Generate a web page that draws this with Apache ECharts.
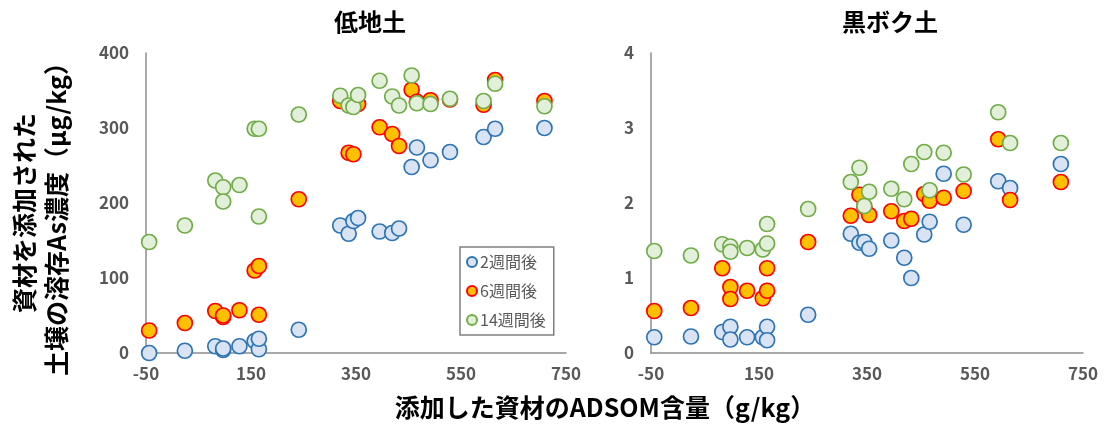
<!DOCTYPE html>
<html>
<head>
<meta charset="utf-8">
<script src="https://cdn.jsdelivr.net/npm/echarts@6/dist/echarts.min.js"></script>
<style>
  html, body { margin: 0; padding: 0; background: #fff; }
  #chart { width: 1104px; height: 434px; }
</style>
</head>
<body>
<div id="chart"></div>
<script>
// ADSOM content of the added material (g/kg), same samples in both soils
var adsom = [-44, 24, 82, 97, 97, 128, 157, 165, 165, 241, 320, 336, 345, 354, 395, 419, 432, 456, 466, 492, 529, 593, 615, 709];

// 低地土 (μg/kg)
var lowland2w  = [0, 3, 9, 4, 6, 9, 16, 5, 19, 31, 170, 159, 176, 180, 162, 160, 166, 248, 274, 257, 268, 288, 299, 300];
var lowland6w  = [30, 40, 56, 48, 50, 57, 110, 116, 51, 205, 336, 267, 265, 332, 301, 292, 276, 351, 335, 337, 338, 331, 364, 336];
var lowland14w = [148, 170, 230, 221, 202, 224, 299, 299, 182, 318, 343, 330, 328, 344, 363, 342, 330, 370, 333, 332, 339, 336, 359, 329];

// 黒ボク土 (μg/kg)
var andosol2w  = [0.21, 0.22, 0.28, 0.35, 0.18, 0.21, 0.21, 0.35, 0.17, 0.51, 1.59, 1.47, 1.48, 1.39, 1.50, 1.27, 1.00, 1.58, 1.75, 2.39, 1.71, 2.29, 2.20, 2.52];
var andosol6w  = [0.56, 0.60, 1.13, 0.88, 0.72, 0.83, 0.73, 1.13, 0.83, 1.48, 1.83, 2.11, 1.95, 1.84, 1.89, 1.76, 1.79, 2.12, 2.03, 2.07, 2.16, 2.85, 2.04, 2.28];
var andosol14w = [1.36, 1.30, 1.45, 1.42, 1.35, 1.40, 1.38, 1.46, 1.72, 1.92, 2.28, 2.47, 1.96, 2.15, 2.19, 2.05, 2.52, 2.68, 2.17, 2.67, 2.38, 3.21, 2.80, 2.80];

var seriesNames = ['2週間後', '6週間後', '14週間後'];
var xTicks = [-50, 150, 350, 550, 750];

var FONT = '"Noto Sans CJK JP", "Noto Sans", sans-serif';
var styles = [
  { color: '#dae3f3', borderColor: '#2e75b6' },
  { color: '#ffc000', borderColor: '#ff0000' },
  { color: '#e2efda', borderColor: '#70ad47' }
];

function pairs(ys) {
  return adsom.map(function (x, i) { return [x, ys[i]]; });
}

function scatter(name, ys, idx, k) {
  return {
    name: name,
    type: 'scatter',
    xAxisIndex: idx,
    yAxisIndex: idx,
    symbol: 'circle',
    symbolSize: 15,
    itemStyle: { color: styles[k].color, borderColor: styles[k].borderColor, borderWidth: 1.7, opacity: 1 },
    emphasis: { disabled: true },
    data: pairs(ys)
  };
}

function xAxis(idx) {
  return {
    type: 'value', gridIndex: idx, min: -50, max: 750,
    axisLine: { show: true, onZero: false, lineStyle: { color: '#8c8c8c', width: 1.5 } },
    axisTick: { show: false },
    splitLine: { show: false },
    axisLabel: { customValues: xTicks, color: '#595959', fontWeight: 'bold', fontSize: 17, fontFamily: FONT, margin: 12 }
  };
}

function yAxis(idx, max, interval) {
  return {
    type: 'value', gridIndex: idx, min: 0, max: max, interval: interval,
    axisLine: { show: true, onZero: false, lineStyle: { color: '#8c8c8c', width: 1.5 } },
    axisTick: { show: false },
    splitLine: { show: false },
    axisLabel: { color: '#595959', fontWeight: 'bold', fontSize: 17, fontFamily: FONT, margin: 17 }
  };
}

var chart = echarts.init(document.getElementById('chart'));

var option = {
  animation: false,
  textStyle: { fontFamily: FONT },
  title: [
    { text: '低地土', left: 365, top: 5, textAlign: 'center', textStyle: { fontSize: 24, fontWeight: 'bold', color: '#000', fontFamily: FONT } },
    { text: '黒ボク土', left: 885, top: 5, textAlign: 'center', textStyle: { fontSize: 24, fontWeight: 'bold', color: '#000', fontFamily: FONT } },
    { text: '添加した資材のADSOM含量（g/kg）', left: 600, top: 390, textAlign: 'center', textStyle: { fontSize: 25, fontWeight: 'bold', color: '#000', fontFamily: FONT } }
  ],
  graphic: [{
    type: 'text',
    x: 40, y: 213,
    rotation: Math.PI / 2,
    style: {
      text: '資材を添加された\n土壌の溶存As濃度（μg/kg）',
      align: 'center', verticalAlign: 'middle',
      fill: '#000', fontSize: 25, fontWeight: 'bold', fontFamily: FONT, lineHeight: 32
    }
  }],
  legend: {
    data: seriesNames,
    orient: 'vertical',
    left: 460, top: 247,
    width: 97, height: 90,
    padding: [7, 8, 7, 6],
    itemGap: 13,
    itemWidth: 10, itemHeight: 10,
    icon: 'circle',
    borderColor: '#7f7f7f', borderWidth: 1.5,
    textStyle: { color: '#595959', fontSize: 16, fontFamily: FONT, padding: [0, 0, 0, -2] }
  },
  grid: [
    { left: 146, right: 538, top: 53, bottom: 81 },
    { left: 651, right: 21, top: 53, bottom: 81 }
  ],
  xAxis: [xAxis(0), xAxis(1)],
  yAxis: [yAxis(0, 400, 100), yAxis(1, 4, 1)],
  series: [
    scatter(seriesNames[0], lowland2w, 0, 0),
    scatter(seriesNames[1], lowland6w, 0, 1),
    scatter(seriesNames[2], lowland14w, 0, 2),
    scatter(seriesNames[0], andosol2w, 1, 0),
    scatter(seriesNames[1], andosol6w, 1, 1),
    scatter(seriesNames[2], andosol14w, 1, 2)
  ]
};
chart.setOption(option);
</script>
</body>
</html>
